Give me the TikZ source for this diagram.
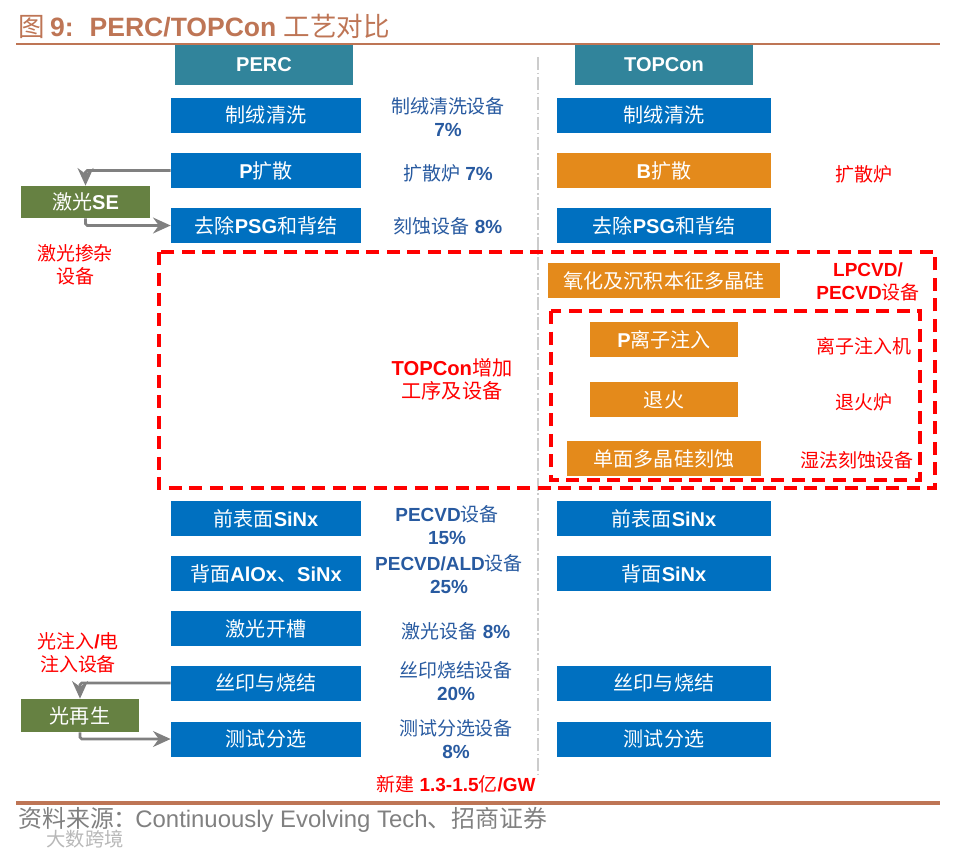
\documentclass[tikz,border=0pt]{standalone}
\usepackage{fontspec}
\setmainfont{Liberation Sans}
\newfontfamily\cjk{Noto Sans CJK SC}
\newcommand{\cn}[1]{{\cjk\mdseries #1}}
\usetikzlibrary{arrows.meta,positioning}
\definecolor{ProcBlue}{RGB}{0, 112, 192}
\definecolor{HeadTeal}{RGB}{49, 132, 155}
\definecolor{NewOrange}{RGB}{228, 138, 27}
\definecolor{SeGreen}{RGB}{102, 129, 66}
\definecolor{LabelBlue}{RGB}{40, 90, 160}
\definecolor{TitleBrown}{RGB}{190, 117, 85}

\begin{document}
\begin{tikzpicture}[x=0.02cm, y=-0.02cm,
  every node/.style={inner sep=0pt, align=center},
  proc/.style={rectangle, fill=ProcBlue, text=white, font=\fontsize{11.4}{14}\selectfont\bfseries, minimum height=0.7cm},
  left col/.style={proc, minimum width=3.8cm},
  right col/.style={proc, minimum width=4.28cm},
  added/.style={proc, fill=NewOrange},
  head/.style={proc, fill=HeadTeal, minimum width=3.56cm, minimum height=0.8cm},
  extra/.style={proc, fill=SeGreen},
  share/.style={text=LabelBlue, font=\fontsize{10.8}{13}\selectfont\bfseries},
  redlab/.style={text=red, font=\fontsize{10.8}{13}\selectfont\bfseries},
  link/.style={draw=gray, line width=1.5pt, -{Stealth[length=10pt,width=9pt]}, rounded corners=1pt},
  zone/.style={draw=red, line width=2.1pt, dash pattern=on 0.26cm off 0.15cm},
  rule/.style={draw=TitleBrown}
]
\useasboundingbox (0,0) rectangle (956,849);

% title and rules
\node[anchor=west, text=TitleBrown, font=\fontsize{15.1}{18}\selectfont\bfseries] (title) at (18,26) {\cn{图}\hspace{0.2em}9:\hspace{0.6em}PERC/TOPCon \cn{工艺对比}};
\coordinate (topl) at (16,44);
\coordinate (topr) at (940,44);
\coordinate (botl) at (16,803);
\coordinate (botr) at (940,803);
\draw[rule, line width=1.1pt] (topl) -- (topr);
\draw[rule, line width=1.9pt] (botl) -- (botr);
\coordinate (midt) at (538,57);
\coordinate (midb) at (538,778);
\draw[draw=black!20, line width=0.85pt, dash pattern=on 7.4pt off 1.5pt on 1pt off 1.5pt] (midt) -- (midb);

% PERC column
\node[head] (perc) at (264,65) {PERC};
\node[left col] (texl) at (266,115.5) {\cn{制绒清洗}};
\node[left col] (diffl) at (266,170.5) {P\cn{扩散}};
\node[left col] (psgl) at (266,225.5) {\cn{去除}PSG\cn{和背结}};
\node[left col] (sinl) at (266,518.5) {\cn{前表面}SiNx};
\node[left col] (alox) at (266,573.5) {\cn{背面}AlOx\cn{、}SiNx};
\node[left col] (groove) at (266,628.5) {\cn{激光开槽}};
\node[left col] (printl) at (266,683) {\cn{丝印与烧结}};
\node[left col] (testl) at (266,739) {\cn{测试分选}};

% TOPCon column
\node[head] (topcon) at (664,65) {TOPCon};
\node[right col] (texr) at (664,115.5) {\cn{制绒清洗}};
\node[right col, added] (diffr) at (664,170.5) {B\cn{扩散}};
\node[right col] (psgr) at (664,225.5) {\cn{去除}PSG\cn{和背结}};
\node[added, minimum width=4.64cm] (oxide) at (664,280.5) {\cn{氧化及沉积本征多晶硅}};
\node[added, minimum width=2.96cm] (implant) at (664,339.5) {P\cn{离子注入}};
\node[added, minimum width=2.96cm] (anneal) at (664,399.5) {\cn{退火}};
\node[added, minimum width=3.88cm] (etch) at (664,458.5) {\cn{单面多晶硅刻蚀}};
\node[right col] (sinr) at (664,518.5) {\cn{前表面}SiNx};
\node[right col] (backr) at (664,573.5) {\cn{背面}SiNx};
\node[right col] (printr) at (664,683) {\cn{丝印与烧结}};
\node[right col] (testr) at (664,739) {\cn{测试分选}};

% extra steps on the left
\node[extra, minimum width=2.58cm, minimum height=0.64cm] (se) at (85.5,202) {\cn{激光}SE};
\node[extra, minimum width=2.38cm, minimum height=0.66cm] (regen) at (80,715.5) {\cn{光再生}};
\draw[link] (diffl.west) -| (se.north);
\draw[link] (se.south) |- (psgl.west);
\draw[link] (printl.west) -| (regen.north);
\draw[link] (regen.south) |- (testl.west);

% equipment shares
\node[share] (s1) at (448,117) {\cn{制绒清洗设备}\\7\%};
\node[share] (s2) at (448,173) {\cn{扩散炉} 7\%};
\node[share] (s3) at (448,226) {\cn{刻蚀设备} 8\%};
\node[share] (s4) at (447,525) {PECVD\cn{设备}\\15\%};
\node[share] (s5) at (449,574) {PECVD/ALD\cn{设备}\\25\%};
\node[share] (s6) at (456,631) {\cn{激光设备} 8\%};
\node[share] (s7) at (456,681) {\cn{丝印烧结设备}\\20\%};
\node[share] (s8) at (456,739) {\cn{测试分选设备}\\8\%};

% red labels
\node[redlab] (r1) at (75,265) {\cn{激光掺杂}\\\cn{设备}};
\node[redlab] (r2) at (78,653) {\cn{光注入}/\cn{电}\\\cn{注入设备}};
\node[redlab, font=\fontsize{11.5}{13}\selectfont\bfseries] (r3) at (452,379) {TOPCon\cn{增加}\\\cn{工序及设备}};
\node[redlab] (r4) at (456,784) {\cn{新建} 1.3-1.5\cn{亿}/GW};
\node[redlab] (r5) at (864,174) {\cn{扩散炉}};
\node[redlab] (r6) at (868,282) {LPCVD/\\PECVD\cn{设备}};
\node[redlab] (r7) at (864,346) {\cn{离子注入机}};
\node[redlab] (r8) at (864,402) {\cn{退火炉}};
\node[redlab] (r9) at (857,460) {\cn{湿法刻蚀设备}};

% dashed zones
\draw[zone] (159,252) rectangle (935,488);
\draw[zone] (551,311) rectangle (920,480);

% source line
\node[anchor=west, text=gray, font=\fontsize{13.6}{16}\selectfont] (source) at (18,820) {\cn{资料来源：}\hspace{-0.1em}Continuously Evolving Tech\cn{、招商证券}};
\node[text=black!28, font=\fontsize{11}{12}\selectfont] (mark) at (85,839) {\cn{大数跨境}};
\end{tikzpicture}
\end{document}
